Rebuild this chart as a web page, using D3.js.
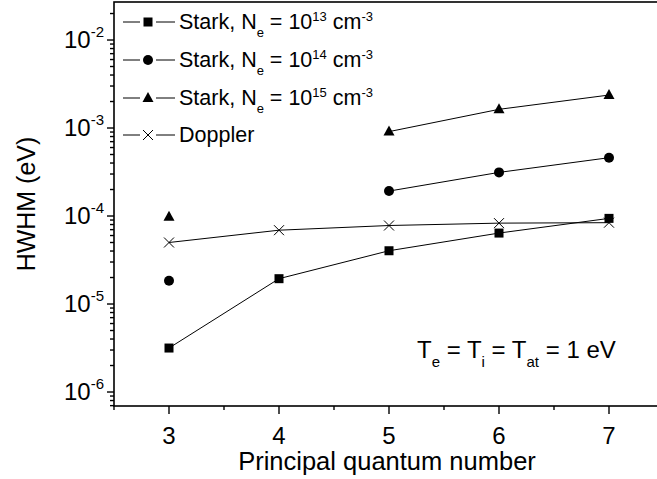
<html><head>
<meta charset="utf-8">
<script src="https://d3js.org/d3.v7.min.js"></script>
<style>
  body { margin: 0; background: #fff; }
  text { font-family: "Liberation Sans", Arial, sans-serif; fill: #000; }
</style>
</head>
<body>
<script>
// principal quantum number
var nValues = [3, 4, 5, 6, 7];

// HWHM (eV), null where there is no point
var stark13 = [3.16e-6, 1.94e-5, 4.03e-5, 6.4e-5, 9.4e-5];
var stark14 = [1.84e-5, null, 1.92e-4, 3.13e-4, 4.6e-4];
var stark15 = [9.8e-5, null, 9.1e-4, 1.63e-3, 2.37e-3];
var doppler = [5.0e-5, 6.9e-5, 7.8e-5, 8.3e-5, 8.4e-5];

var seriesNames = ["13", "14", "15", "Doppler"];
var yTickExps = [-2, -3, -4, -5, -6];
var xTicks = [3, 4, 5, 6, 7];

var width = 657, height = 479;
var plotL = 114, plotT = 2, plotR = 664, plotB = 406;

var svg = d3.select("body").append("svg")
    .attr("width", width)
    .attr("height", height);

var x = d3.scaleLinear().domain([2.5, 7.5]).range([plotL, plotR]);
var y = d3.scaleLog().domain([Math.pow(10, -6.159), Math.pow(10, -1.568)]).range([plotB, plotT]);

// frame
svg.append("rect")
    .attr("x", plotL).attr("y", plotT)
    .attr("width", plotR - plotL).attr("height", plotB - plotT)
    .attr("fill", "none").attr("stroke", "#000").attr("stroke-width", 1.6);

// y ticks, major + minor, pointing out
var yMinor = [];
for (var e = -7; e <= -1; e++) {
    for (var m = 2; m <= 9; m++) {
        var v = m * Math.pow(10, e);
        if (v >= y.domain()[0] && v <= y.domain()[1]) yMinor.push(v);
    }
}
svg.selectAll(".yminor").data(yMinor).enter().append("line")
    .attr("x1", plotL - 4).attr("x2", plotL)
    .attr("y1", function(d) { return y(d); }).attr("y2", function(d) { return y(d); })
    .attr("stroke", "#000").attr("stroke-width", 1.4);
svg.selectAll(".ymajor").data(yTickExps).enter().append("line")
    .attr("x1", plotL - 7).attr("x2", plotL)
    .attr("y1", function(d) { return y(Math.pow(10, d)); }).attr("y2", function(d) { return y(Math.pow(10, d)); })
    .attr("stroke", "#000").attr("stroke-width", 1.4);

var yLab = svg.selectAll(".ylab").data(yTickExps).enter().append("text")
    .attr("x", 104)
    .attr("y", function(d) { return y(Math.pow(10, d)) + 8; })
    .attr("text-anchor", "end")
    .style("font-size", "24px");
yLab.append("tspan").text("10");
yLab.append("tspan").attr("dy", -11).style("font-size", "15px").text(function(d) { return d; });

// x ticks
var xMinor = [2.5, 3.5, 4.5, 5.5, 6.5, 7.5];
svg.selectAll(".xminor").data(xMinor).enter().append("line")
    .attr("x1", function(d) { return x(d); }).attr("x2", function(d) { return x(d); })
    .attr("y1", plotB).attr("y2", plotB + 4)
    .attr("stroke", "#000").attr("stroke-width", 1.4);
svg.selectAll(".xmajor").data(xTicks).enter().append("line")
    .attr("x1", function(d) { return x(d); }).attr("x2", function(d) { return x(d); })
    .attr("y1", plotB).attr("y2", plotB + 8)
    .attr("stroke", "#000").attr("stroke-width", 1.4);
svg.selectAll(".xlab").data(xTicks).enter().append("text")
    .attr("x", function(d) { return x(d); })
    .attr("y", 444)
    .attr("text-anchor", "middle")
    .style("font-size", "24px")
    .text(function(d) { return d; });

// axis titles
svg.append("text")
    .attr("x", (plotL + plotR) / 2 - 2).attr("y", 470)
    .attr("text-anchor", "middle")
    .style("font-size", "25.5px")
    .text("Principal quantum number");
svg.append("text")
    .attr("transform", "translate(35," + ((plotT + plotB) / 2) + ") rotate(-90)")
    .attr("text-anchor", "middle")
    .style("font-size", "25px")
    .text("HWHM (eV)");

// markers
function drawMarker(g, kind, cx, cy) {
    if (kind == "13") {
        g.append("rect").attr("x", cx - 4.5).attr("y", cy - 4.5)
            .attr("width", 9).attr("height", 9).attr("fill", "#000");
    } else if (kind == "14") {
        g.append("circle").attr("cx", cx).attr("cy", cy).attr("r", 5).attr("fill", "#000");
    } else if (kind == "15") {
        g.append("path")
            .attr("d", "M" + cx + "," + (cy - 6) + "L" + (cx + 5.5) + "," + (cy + 4) + "L" + (cx - 5.5) + "," + (cy + 4) + "Z")
            .attr("fill", "#000");
    } else {
        g.append("path")
            .attr("d", "M" + (cx - 5) + "," + (cy - 5) + "L" + (cx + 5) + "," + (cy + 5) +
                       "M" + (cx - 5) + "," + (cy + 5) + "L" + (cx + 5) + "," + (cy - 5))
            .attr("stroke", "#000").attr("stroke-width", 1).attr("fill", "none");
    }
}

var allSeries = [stark13, stark14, stark15, doppler];
var line = d3.line()
    .defined(function(d) { return d.v != null; })
    .x(function(d) { return x(d.n); })
    .y(function(d) { return y(d.v); });

allSeries.forEach(function(vals, i) {
    var pts = nValues.map(function(n, j) { return { n: n, v: vals[j] }; });
    var g = svg.append("g");
    g.append("path")
        .attr("d", line(pts))
        .attr("fill", "none").attr("stroke", "#000").attr("stroke-width", 1);
    pts.forEach(function(p) {
        if (p.v != null) drawMarker(g, seriesNames[i], x(p.n), y(p.v));
    });
});

// legend
var legendY = [22, 60, 98, 135];
seriesNames.forEach(function(name, i) {
    var g = svg.append("g");
    var ly = legendY[i];
    g.append("line").attr("x1", 123).attr("x2", 175).attr("y1", ly).attr("y2", ly)
        .attr("stroke", "#000").attr("stroke-width", 1);
    // white gap behind marker like in Origin legends
    g.append("rect").attr("x", 140).attr("y", ly - 6).attr("width", 16).attr("height", 12).attr("fill", "#fff");
    drawMarker(g, name, 148, ly);
    var t = g.append("text").attr("x", 179).attr("y", ly + 7).style("font-size", "21.5px");
    if (name == "Doppler") {
        t.text("Doppler");
    } else {
        t.append("tspan").text("Stark, N");
        t.append("tspan").attr("dy", 8).style("font-size", "13px").text("e");
        t.append("tspan").attr("dy", -8).text(" = 10");
        t.append("tspan").attr("dy", -8).style("font-size", "13px").text(name);
        t.append("tspan").attr("dy", 8).text(" cm");
        t.append("tspan").attr("dy", -8).style("font-size", "13px").text("-3");
    }
});

// annotation
var ann = svg.append("text").attr("x", 417).attr("y", 358).style("font-size", "24px");
ann.append("tspan").text("T");
ann.append("tspan").attr("dy", 9).style("font-size", "15px").text("e");
ann.append("tspan").attr("dy", -9).text(" = T");
ann.append("tspan").attr("dy", 9).style("font-size", "15px").text("i");
ann.append("tspan").attr("dy", -9).text(" = T");
ann.append("tspan").attr("dy", 9).style("font-size", "15px").text("at");
ann.append("tspan").attr("dy", -9).text(" = 1 eV");
</script>
</body>
</html>
